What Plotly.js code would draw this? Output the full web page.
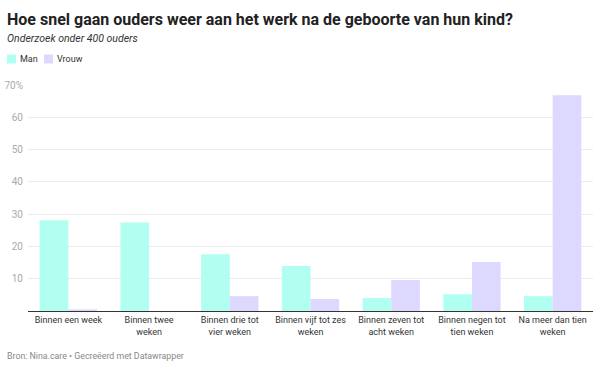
<!DOCTYPE html>
<html>
<head>
<meta charset="utf-8">
<script src="https://cdn.plot.ly/plotly-3.0.1.min.js"></script>
<style>
html,body{margin:0;padding:0;background:#fff;}
#chart{width:600px;height:370px;}
</style>
</head>
<body>
<div id="chart"></div>
<script>
const categories = [
  "Binnen een week",
  "Binnen twee<br>weken",
  "Binnen drie tot<br>vier weken",
  "Binnen vijf tot zes<br>weken",
  "Binnen zeven tot<br>acht weken",
  "Binnen negen tot<br>tien weken",
  "Na meer dan tien<br>weken"
];
const seriesNames = ["Man", "Vrouw"];
const man = [28.1, 27.4, 17.6, 13.9, 4.0, 5.2, 4.6];
const vrouw = [0.5, 0, 4.6, 3.7, 9.6, 15.2, 66.8];
const yTickVals = [10, 20, 30, 40, 50, 60, 70];
const yTickText = ["10", "20", "30", "40", "50", "60", "70%"];

const FONT = "Roboto, 'Noto Sans', sans-serif";
const COLORS = ["#b1fff0", "#ddd8fe"];

// plot area geometry (pixels)
const M = {l: 28, r: 7, t: 85, b: 59};
const PW = 600 - M.l - M.r, PH = 370 - M.t - M.b;
const px = x => (x - M.l) / PW;
const py = y => 1 - (y - M.t) / PH;

const traces = [
  {type: "bar", name: seriesNames[0], x: categories, y: man,
   marker: {color: COLORS[0]}, hoverinfo: "skip"},
  {type: "bar", name: seriesNames[1], x: categories, y: vrouw,
   marker: {color: COLORS[1]}, hoverinfo: "skip"}
];

const layout = {
  width: 600, height: 370,
  margin: {l: M.l, r: M.r, t: M.t, b: M.b, pad: 0},
  paper_bgcolor: "#fff", plot_bgcolor: "#fff",
  font: {family: FONT, size: 9, color: "#333"},
  barmode: "group",
  bargap: 0.29,
  bargroupgap: 0,
  showlegend: false,
  xaxis: {type: "category", showgrid: false, zeroline: false, showline: true,
          linecolor: "#333", linewidth: 1, ticks: "", tickangle: 0,
          tickfont: {size: 9, color: "#333"}, fixedrange: true},
  yaxis: {range: [0, 70], tickvals: yTickVals, ticktext: yTickText,
          showgrid: true, gridcolor: "#ebebeb", gridwidth: 1,
          zeroline: false, ticks: "", ticklabelstandoff: 4,
          tickfont: {size: 10, color: "#aaaaaa"}, fixedrange: true},
  shapes: [
    {type: "rect", xref: "paper", yref: "paper", x0: px(7), x1: px(16), y0: py(54.5), y1: py(63.5),
     fillcolor: COLORS[0], line: {width: 0}},
    {type: "rect", xref: "paper", yref: "paper", x0: px(44), x1: px(53), y0: py(54.5), y1: py(63.5),
     fillcolor: COLORS[1], line: {width: 0}}
  ],
  annotations: [
    {text: "<b>Hoe snel gaan ouders weer aan het werk na de geboorte van hun kind?</b>",
     xref: "paper", yref: "paper", x: px(5), y: py(19), xanchor: "left", yanchor: "middle",
     showarrow: false, font: {family: FONT, size: 16, color: "#222"}},
    {text: "<i>Onderzoek onder 400 ouders</i>",
     xref: "paper", yref: "paper", x: px(5), y: py(38.5), xanchor: "left", yanchor: "middle",
     showarrow: false, font: {family: FONT, size: 10.5, color: "#333"}},
    {text: seriesNames[0],
     xref: "paper", yref: "paper", x: px(18), y: py(59), xanchor: "left", yanchor: "middle",
     showarrow: false, font: {family: FONT, size: 9, color: "#333"}},
    {text: seriesNames[1],
     xref: "paper", yref: "paper", x: px(55), y: py(59), xanchor: "left", yanchor: "middle",
     showarrow: false, font: {family: FONT, size: 9, color: "#333"}},
    {text: "Bron: Nina.care • Gecreëerd met Datawrapper",
     xref: "paper", yref: "paper", x: px(5), y: py(355.5), xanchor: "left", yanchor: "middle",
     showarrow: false, font: {family: FONT, size: 8.8, color: "#888"}}
  ]
};

Plotly.newPlot("chart", traces, layout, {displayModeBar: false, staticPlot: true});
</script>
</body>
</html>
